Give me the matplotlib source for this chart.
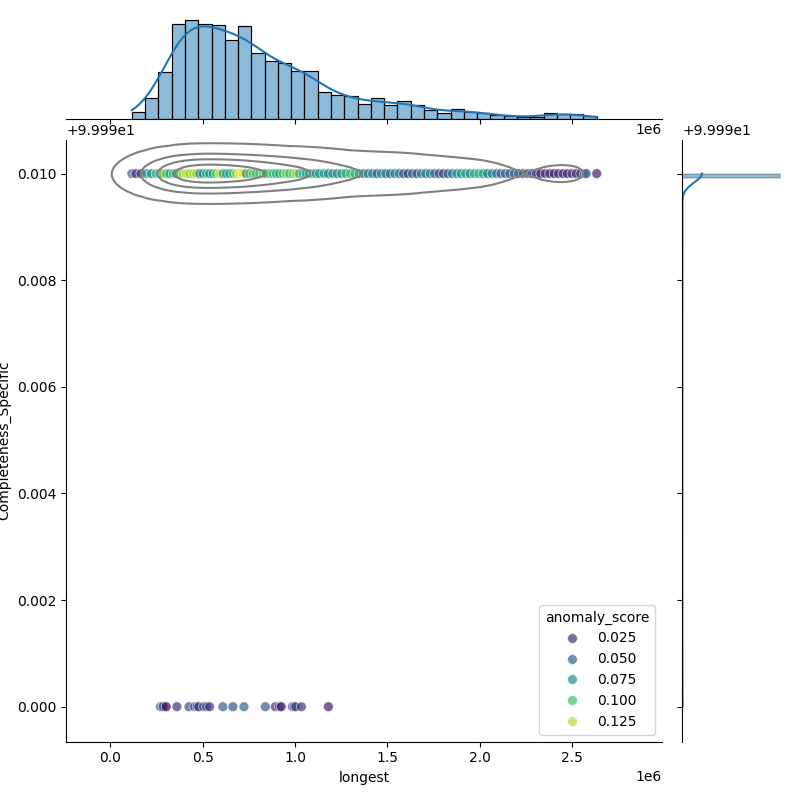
import numpy as np
import pandas as pd
import seaborn as sns
import matplotlib
matplotlib.use("Agg")
import matplotlib.pyplot as plt

# longest (en miles), registros que representa cada punto y su anomaly_score
# fila superior: Completeness_Specific = 100.0
top_longest_k = [116, 138, 165, 196, 222, 248, 268, 286, 304, 322,
                 340, 358, 376, 394, 412, 430, 448, 466, 484, 502,
                 520, 538, 556, 574, 592, 610, 628, 646, 664, 682,
                 700, 718, 736, 754, 772, 790, 808, 826, 844, 862,
                 880, 898, 916, 934, 952, 970, 988, 1006, 1024, 1042,
                 1060, 1078, 1096, 1114, 1132, 1156, 1180, 1204, 1228, 1252,
                 1275, 1299, 1323, 1347, 1371, 1395, 1419, 1443, 1467, 1491,
                 1515, 1539, 1563, 1587, 1611, 1635, 1659, 1683, 1707, 1731,
                 1755, 1779, 1803, 1827, 1851, 1875, 1899, 1923, 1947, 1971,
                 1994, 2018, 2042, 2066, 2090, 2114, 2138, 2162, 2186, 2210,
                 2234, 2258, 2282, 2306, 2330, 2354, 2378, 2402, 2426, 2450,
                 2474, 2498, 2522, 2546, 2566, 2576, 2632.5]
top_records = [6, 7, 7, 20, 21, 21, 34, 34, 35, 35,
               72, 72, 71, 72, 74, 74, 74, 74, 71, 71,
               70, 71, 71, 71, 71, 71, 59, 59, 59, 59,
               70, 70, 70, 71, 50, 50, 50, 50, 43, 43,
               43, 44, 42, 42, 42, 42, 36, 35, 36, 35,
               37, 36, 37, 36, 27, 26, 27, 24, 24, 24,
               23, 23, 23, 15, 14, 15, 21, 20, 21, 14,
               13, 14, 18, 18, 18, 14, 13, 14, 9, 10,
               9, 6, 5, 6, 10, 9, 10, 7, 8, 7,
               6, 5, 6, 4, 4, 4, 3, 2, 3, 2,
               1, 1, 1, 1, 2, 6, 6, 5, 5, 5,
               5, 5, 5, 4, 4, 4, 1]
top_score = [0.05, 0.03, 0.035, 0.08, 0.07, 0.1, 0.085, 0.12, 0.1, 0.075,
             0.105, 0.07, 0.11, 0.125, 0.13, 0.115, 0.125, 0.12, 0.07, 0.065,
             0.1, 0.075, 0.08, 0.11, 0.135, 0.08, 0.085, 0.075, 0.1, 0.12,
             0.14, 0.135, 0.06, 0.1, 0.11, 0.095, 0.1, 0.12, 0.07, 0.105,
             0.1, 0.09, 0.085, 0.1, 0.115, 0.095, 0.11, 0.125, 0.08, 0.1,
             0.09, 0.075, 0.105, 0.07, 0.08, 0.09, 0.065, 0.075, 0.07, 0.08,
             0.09, 0.1, 0.095, 0.08, 0.06, 0.065, 0.07, 0.05, 0.075, 0.06,
             0.05, 0.07, 0.065, 0.045, 0.035, 0.055, 0.04, 0.07, 0.06, 0.07,
             0.05, 0.045, 0.035, 0.05, 0.06, 0.08, 0.075, 0.085, 0.07, 0.09,
             0.095, 0.085, 0.065, 0.07, 0.06, 0.05, 0.05, 0.045, 0.055, 0.045,
             0.04, 0.05, 0.04, 0.035, 0.02, 0.03, 0.025, 0.02, 0.025, 0.03,
             0.02, 0.035, 0.025, 0.03, 0.045, 0.05, 0.02]

# fila inferior: Completeness_Specific = 99.99
low_longest_k = [271, 285, 302, 360, 425, 456, 470, 479, 504, 520, 537, 609,
                 663, 723, 839, 893, 915, 925, 985, 995, 1003, 1034, 1180]
low_score = [0.05, 0.045, 0.01, 0.03, 0.045, 0.04, 0.035, 0.03, 0.045, 0.04, 0.03, 0.05,
             0.045, 0.055, 0.045, 0.025, 0.04, 0.02, 0.035, 0.03, 0.045, 0.03, 0.02]

df = pd.DataFrame({
    'longest': np.array(top_longest_k + low_longest_k) * 1000,
    'Completeness_Specific': [100.0] * len(top_longest_k) + [99.99] * len(low_longest_k),
    'anomaly_score': top_score + low_score,
    'records': top_records + [1] * len(low_longest_k),
})

g = sns.JointGrid(data=df, x='longest', y='Completeness_Specific', height=8)

sns.scatterplot(data=df, x='longest', y='Completeness_Specific', hue='anomaly_score',
                palette='viridis', alpha=0.7, s=50, ax=g.ax_joint)
sns.kdeplot(data=df, x='longest', y='Completeness_Specific', weights='records',
            levels=5, color='gray', bw_method=0.26, ax=g.ax_joint)

# marginales
sns.histplot(data=df, x='longest', weights='records', bins=35, kde=True,
             kde_kws={'bw_method': 0.2}, ax=g.ax_marg_x)
sns.histplot(data=df, y='Completeness_Specific', weights='records', bins=120, kde=True,
             kde_kws={'bw_method': 0.2}, ax=g.ax_marg_y)

# limites como en el grafico original (rejilla del kde)
g.ax_joint.set_xlim(-0.238e6, 2.985e6)
g.ax_joint.set_ylim(99.989343, 100.000638)

plt.savefig('out.png', dpi=100)
